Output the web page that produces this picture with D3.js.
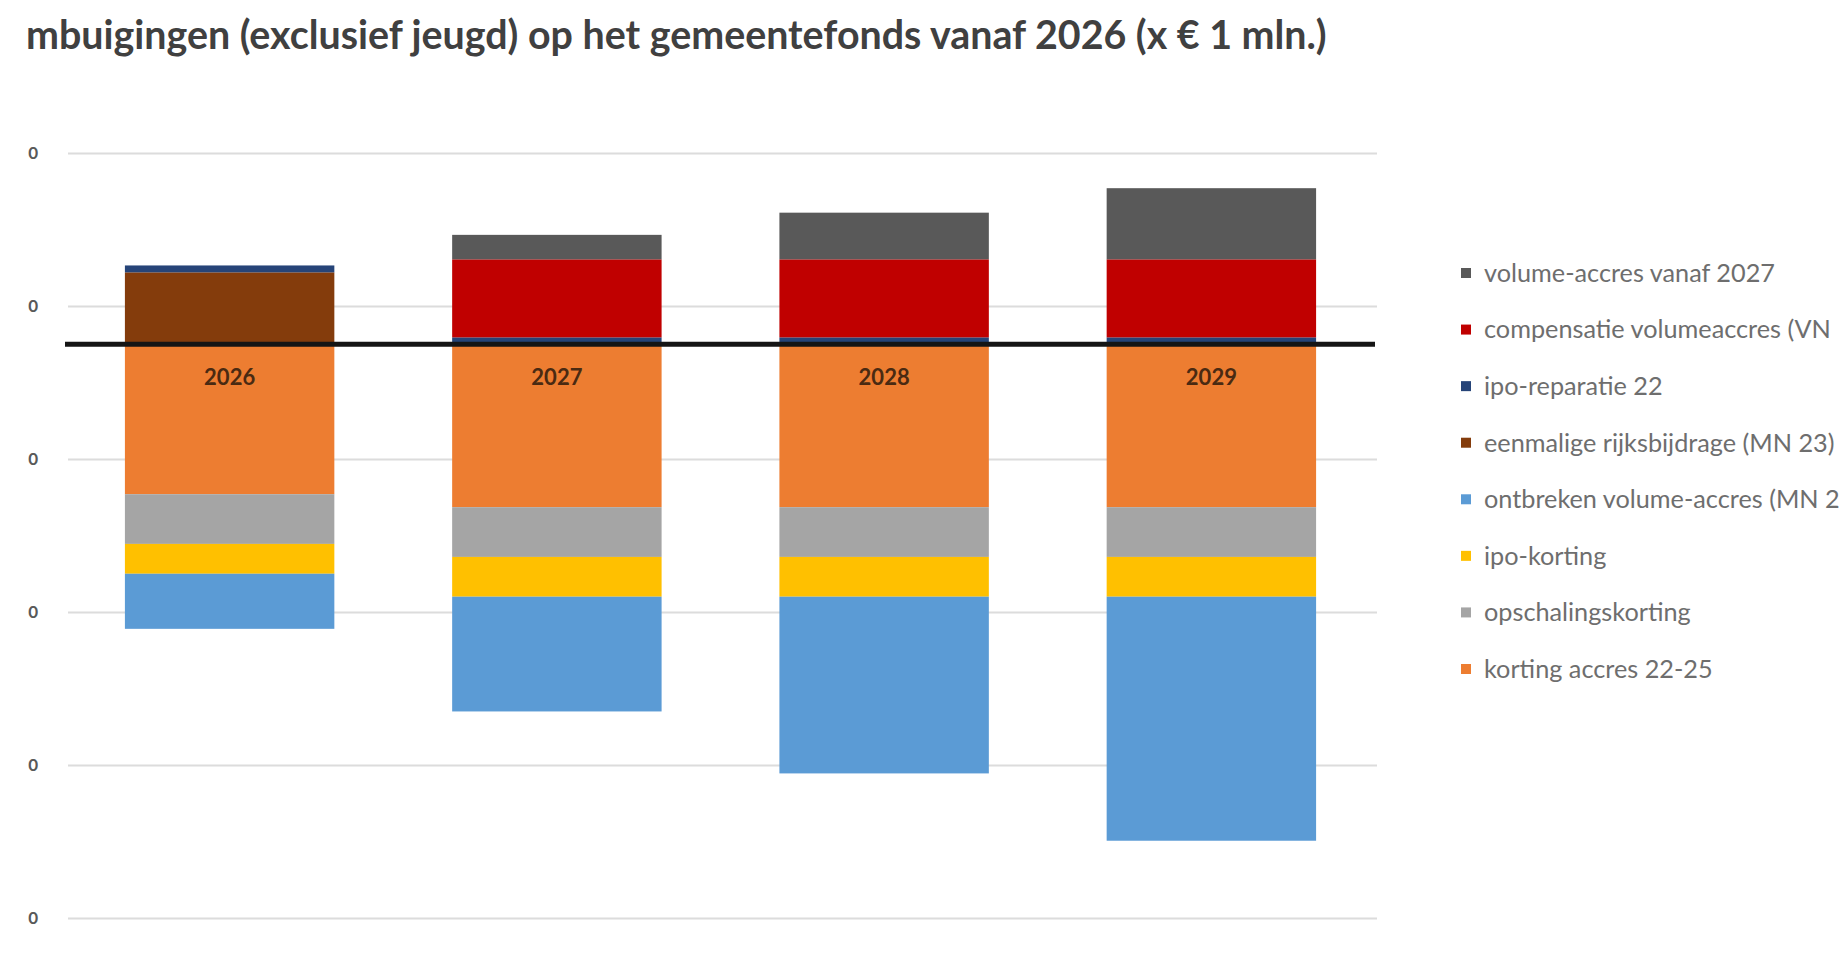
<!DOCTYPE html>
<html>
<head>
<meta charset="utf-8">
<script src="https://cdn.jsdelivr.net/npm/d3@7"></script>
<style>
  body { margin: 0; background: #fff; }
  text { font-family: Lato, "Open Sans", sans-serif; }
</style>
</head>
<body>
<div id="chart"></div>
<script>
// data (x € 1 mln.)
const years = ['2026', '2027', '2028', '2029'];

// series in stacking order (first = closest to the axis)
const seriesNames = [
  'korting accres 22-25',
  'opschalingskorting',
  'ipo-korting',
  'ontbreken volume-accres (MN 2',
  'eenmalige rijksbijdrage (MN 23)',
  'ipo-reparatie 22',
  'compensatie volumeaccres (VN',
  'volume-accres vanaf 2027',
];
const seriesColors = ['#ED7D31', '#A5A5A5', '#FFC000', '#5B9BD5', '#843C0C', '#264478', '#C00000', '#595959'];

const kortingAccres = [-196, -213, -213, -213];
const opschalingskorting = [-65, -65, -65, -65];
const ipoKorting = [-39, -52, -52, -52];
const ontbrekenVolume = [-72, -150, -231, -319];
const eenmaligeBijdrage = [94, 0, 0, 0];
const ipoReparatie = [9, 9, 9, 9];
const compensatieVolume = [0, 102, 102, 102];
const volumeAccres = [0, 32, 61, 93];

// y ticks: only the last digit survives the cropped left edge
const yTickValues = [250, 50, -150, -350, -550, -750];
const yTickLabels = ['0', '0', '0', '0', '0', '0'];

const title = 'mbuigingen (exclusief jeugd) op het gemeentefonds vanaf 2026 (x € 1 mln.)';

const seriesValues = [kortingAccres, opschalingskorting, ipoKorting, ontbrekenVolume,
  eenmaligeBijdrage, ipoReparatie, compensatieVolume, volumeAccres];

const rows = years.map((y, i) => {
  const row = { year: y };
  seriesNames.forEach((s, j) => { row[s] = seriesValues[j][i]; });
  return row;
});

const width = 1839;
const height = 962;
const plot = { left: 66, right: 1375, top: 153, bottom: 918 };

const svg = d3.select('#chart').append('svg')
  .attr('width', width).attr('height', height)
  .style('display', 'block');

// fit a text element to a target width by scaling its font size
function fitWidth(sel, target) {
  const w = sel.node().getComputedTextLength();
  const fs = parseFloat(sel.attr('font-size'));
  sel.attr('font-size', fs * target / w);
  return fs * target / w;
}

const xScale = d3.scaleBand()
  .domain(years)
  .range([plot.left, plot.right])
  .paddingInner(0.36)
  .paddingOuter(0.18);

const yScale = d3.scaleLinear()
  .domain([-750, 250])
  .range([plot.bottom, plot.top]);

// gridlines + y labels
const yAxis = d3.axisLeft(yScale)
  .tickValues(yTickValues)
  .tickSize(-(plot.right - plot.left))
  .tickPadding(30)
  .tickFormat((d, i) => yTickLabels[i]);

const gy = svg.append('g')
  .attr('transform', `translate(${plot.left + 2},0)`)
  .call(yAxis);
gy.select('.domain').remove();
gy.selectAll('.tick line').attr('stroke', '#dcdcdc').attr('stroke-width', 2);
gy.selectAll('.tick text')
  .attr('font-size', 17)
  .attr('font-weight', 700)
  .attr('fill', '#595959')
  .style('font-family', 'Lato, sans-serif');

// stacked bars
const stack = d3.stack().keys(seriesNames).offset(d3.stackOffsetDiverging);
const layers = stack(rows);

svg.append('g').selectAll('g')
  .data(layers)
  .join('g')
  .attr('fill', (d, i) => seriesColors[i])
  .selectAll('rect')
  .data((d) => d)
  .join('rect')
  .attr('x', (d) => xScale(d.data.year))
  .attr('width', xScale.bandwidth())
  .attr('y', (d) => yScale(Math.max(d[0], d[1])))
  .attr('height', (d) => Math.abs(yScale(d[0]) - yScale(d[1])));

// zero line
svg.append('line')
  .attr('x1', plot.left - 1).attr('x2', plot.right)
  .attr('y1', yScale(0)).attr('y2', yScale(0))
  .attr('stroke', '#151515')
  .attr('stroke-width', 5);

// category labels next to the axis
const xAxis = d3.axisBottom(xScale).tickSize(0).tickPadding(25);
const gx = svg.append('g')
  .attr('transform', `translate(0,${yScale(0)})`)
  .call(xAxis);
gx.select('.domain').remove();
gx.selectAll('.tick text')
  .attr('font-size', 22)
  .attr('font-weight', 700)
  .attr('fill', '#4a2a12')
  .style('font-family', 'Lato, sans-serif');

// title
const t = svg.append('text')
  .attr('x', 26).attr('y', 49)
  .attr('font-size', 34)
  .attr('font-weight', 700)
  .attr('fill', '#404040')
  .text(title);
fitWidth(t, 1301);

// legend (reverse order, like Excel)
const legendItems = seriesNames.map((n, i) => ({ name: n, color: seriesColors[i] })).reverse();
const legend = svg.append('g');
const rowsY = d3.scalePoint().domain(legendItems.map((d) => d.name)).range([273, 669]);

const lg = legend.selectAll('g')
  .data(legendItems)
  .join('g')
  .attr('transform', (d) => `translate(1461,${rowsY(d.name)})`);

lg.append('rect')
  .attr('x', 0).attr('y', -5)
  .attr('width', 10).attr('height', 10)
  .attr('fill', (d) => d.color);

const lt = lg.append('text')
  .attr('x', 23).attr('dy', '0.35em')
  .attr('font-size', 20)
  .attr('fill', '#6e6e6e')
  .text((d) => d.name);

// scale legend font from the first entry
const fs = fitWidth(d3.select(lt.nodes()[0]), 291);
lt.attr('font-size', fs);
</script>
</body>
</html>
